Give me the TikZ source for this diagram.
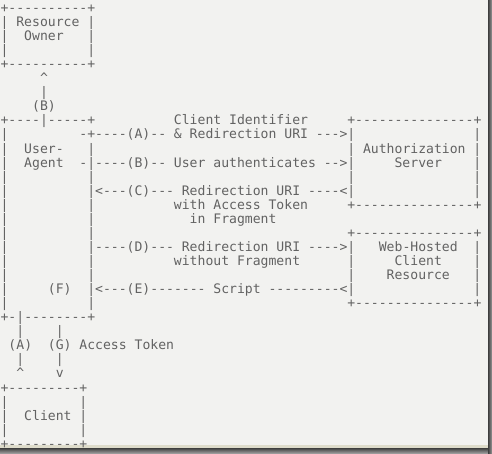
\documentclass[tikz,border=0pt]{standalone}
\usepackage{fontspec}
\setmonofont{DejaVu Sans Mono}
\definecolor{bg}{HTML}{F2F2F0}
\definecolor{txt}{HTML}{626262}
\definecolor{beige}{HTML}{DEDCCB}
\definecolor{shadowdark}{HTML}{3E3E3E}
\definecolor{shadowlight}{HTML}{9A9A9A}
\tikzset{
  t/.style={anchor=base west, inner sep=0pt, outer sep=0pt, text=txt,
            font=\ttfamily\fontsize{13.1}{14.06}\selectfont}
}
\begin{document}
\begin{tikzpicture}
\useasboundingbox (0pt,0pt) rectangle (492pt,-453pt);
\fill[bg] (0pt,0pt) rectangle (488pt,-448pt);
\fill[beige] (0pt,-445pt) rectangle (488pt,-448pt);
\shade[top color=shadowdark, bottom color=shadowlight] (0pt,-448pt) rectangle (492pt,-453pt);
\shade[left color=shadowdark, right color=shadowlight] (488pt,0pt) rectangle (492pt,-453pt);
\begin{scope}[shift={(0.6pt,1.66pt)}, x=7.88pt, y=-14.06pt]
% Resource Owner box
\node[t] (r1) at (0,1) {+----------+};
\node[t] (r2a) at (0,2) {|}; \node[t] (r2b) at (2,2) {Resource}; \node[t] (r2c) at (11,2) {|};
\node[t] (r3a) at (0,3) {|}; \node[t] (r3b) at (3,3) {Owner}; \node[t] (r3c) at (11,3) {|};
\node[t] (r4a) at (0,4) {|}; \node[t] (r4c) at (11,4) {|};
\node[t] (r5) at (0,5) {+----------+};
\node[t] (r6) at (5,6) {\textasciicircum};
\node[t] (r7) at (5,7) {|};
\node[t] (r8) at (4,8) {(B)};
% row 9
\node[t] (r9a) at (0,9) {+----|-----+};
\node[t] (r9b) at (22,9) {Client Identifier};
\node[t] (r9c) at (44,9) {+---------------+};
% row 10
\node[t] (r10a) at (0,10) {|};
\node[t] (r10b) at (10,10) {-+----(A)--};
\node[t] (r10c) at (22,10) {\& Redirection URI --->|};
\node[t] (r10d) at (60,10) {|};
% row 11
\node[t] (r11a) at (0,11) {|};
\node[t] (r11b) at (3,11) {User-};
\node[t] (r11c) at (11,11) {|};
\node[t] (r11d) at (44,11) {|};
\node[t] (r11e) at (46,11) {Authorization};
\node[t] (r11f) at (60,11) {|};
% row 12
\node[t] (r12a) at (0,12) {|};
\node[t] (r12b) at (3,12) {Agent};
\node[t] (r12c) at (10,12) {-|----(B)--};
\node[t] (r12d) at (22,12) {User authenticates -->|};
\node[t] (r12e) at (50,12) {Server};
\node[t] (r12f) at (60,12) {|};
% row 13
\node[t] (r13a) at (0,13) {|}; \node[t] (r13b) at (11,13) {|};
\node[t] (r13c) at (44,13) {|}; \node[t] (r13d) at (60,13) {|};
% row 14
\node[t] (r14a) at (0,14) {|};
\node[t] (r14b) at (11,14) {|<---(C)---};
\node[t] (r14c) at (23,14) {Redirection URI ----<|};
\node[t] (r14d) at (60,14) {|};
% row 15
\node[t] (r15a) at (0,15) {|}; \node[t] (r15b) at (11,15) {|};
\node[t] (r15c) at (22,15) {with Access Token};
\node[t] (r15d) at (44,15) {+---------------+};
% row 16
\node[t] (r16a) at (0,16) {|}; \node[t] (r16b) at (11,16) {|};
\node[t] (r16c) at (24,16) {in Fragment};
% row 17
\node[t] (r17a) at (0,17) {|}; \node[t] (r17b) at (11,17) {|};
\node[t] (r17c) at (44,17) {+---------------+};
% row 18
\node[t] (r18a) at (0,18) {|};
\node[t] (r18b) at (11,18) {|----(D)---};
\node[t] (r18c) at (23,18) {Redirection URI ---->|};
\node[t] (r18d) at (48,18) {Web-Hosted};
\node[t] (r18e) at (60,18) {|};
% row 19
\node[t] (r19a) at (0,19) {|}; \node[t] (r19b) at (11,19) {|};
\node[t] (r19c) at (22,19) {without Fragment};
\node[t] (r19d) at (44,19) {|};
\node[t] (r19e) at (50,19) {Client};
\node[t] (r19f) at (60,19) {|};
% row 20
\node[t] (r20a) at (0,20) {|}; \node[t] (r20b) at (11,20) {|};
\node[t] (r20c) at (44,20) {|};
\node[t] (r20d) at (49,20) {Resource};
\node[t] (r20e) at (60,20) {|};
% row 21
\node[t] (r21a) at (0,21) {|};
\node[t] (r21b) at (6,21) {(F)};
\node[t] (r21c) at (11,21) {|<---(E)-------};
\node[t] (r21d) at (27,21) {Script ---------<|};
\node[t] (r21e) at (60,21) {|};
% row 22
\node[t] (r22a) at (0,22) {|}; \node[t] (r22b) at (11,22) {|};
\node[t] (r22c) at (44,22) {+---------------+};
% row 23
\node[t] (r23) at (0,23) {+-|--------+};
% rows 24-27
\node[t] (r24a) at (2,24) {|}; \node[t] (r24b) at (7,24) {|};
\node[t] (r25a) at (1,25) {(A)}; \node[t] (r25b) at (6,25) {(G) Access Token};
\node[t] (r26a) at (2,26) {|}; \node[t] (r26b) at (7,26) {|};
\node[t] (r27a) at (2,27) {\textasciicircum}; \node[t] (r27b) at (7,27) {v};
% Client box
\node[t] (r28) at (0,28) {+---------+};
\node[t] (r29a) at (0,29) {|}; \node[t] (r29b) at (10,29) {|};
\node[t] (r30a) at (0,30) {|}; \node[t] (r30b) at (3,30) {Client}; \node[t] (r30c) at (10,30) {|};
\node[t] (r31a) at (0,31) {|}; \node[t] (r31b) at (10,31) {|};
\node[t] (r32) at (0,32) {+---------+};
\end{scope}
\end{tikzpicture}
\end{document}
